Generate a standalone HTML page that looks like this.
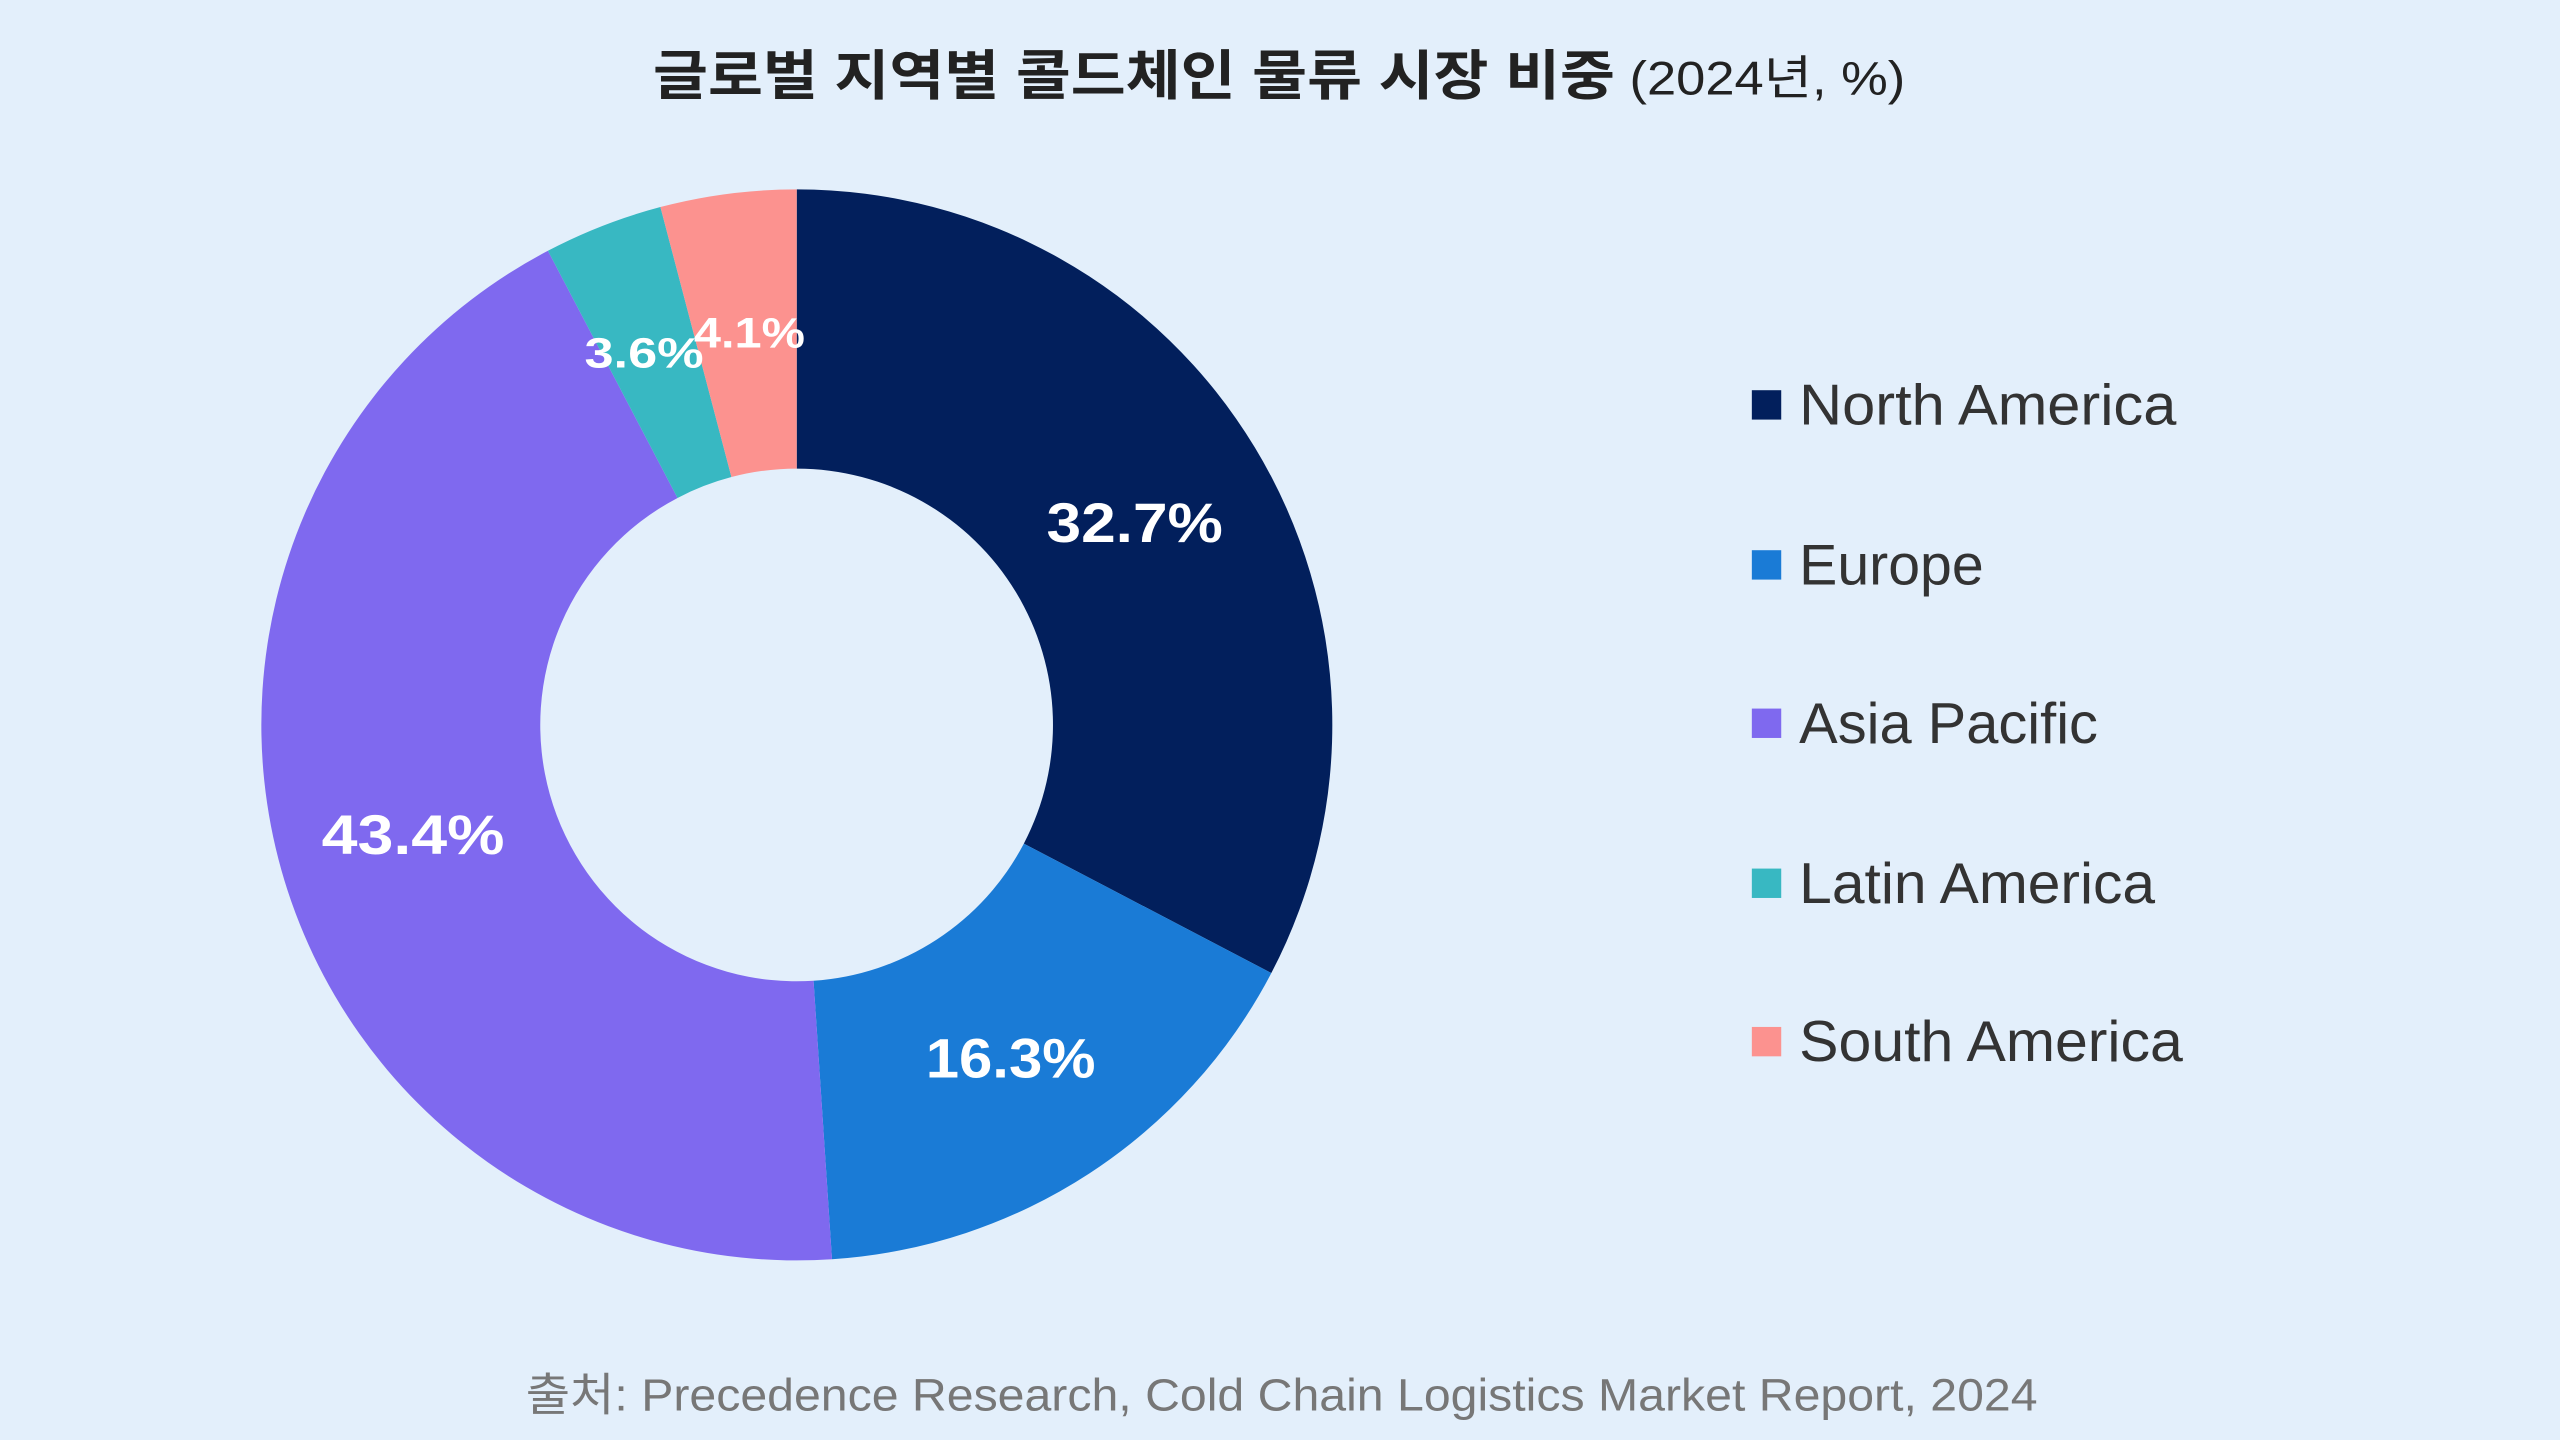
<!DOCTYPE html>
<html><head><meta charset="utf-8">
<style>
html,body{margin:0;padding:0;background:#e3effb;}
svg{display:block;}
text{font-family:"Liberation Sans","Noto Sans CJK KR",sans-serif;}
</style></head>
<body>
<svg width="2560" height="1440" viewBox="0 0 1568 882" xmlns="http://www.w3.org/2000/svg">
<rect width="1568" height="882" fill="#e3effb"/>
<text x="400" y="58" font-size="33" fill="#222" textLength="767" lengthAdjust="spacingAndGlyphs"><tspan font-weight="bold">글로벌 지역별 콜드체인 물류 시장 비중</tspan><tspan font-size="29"> (2024년, %)</tspan></text>
<path d="M488,116 A328,328 0 0 1 778.7,596.0 L627.1,516.7 A157,157 0 0 0 488,287 Z" fill="#021f5c"/>
<path d="M778.7,596.0 A328,328 0 0 1 509.6,771.3 L498.3,600.7 A157,157 0 0 0 627.1,516.7 Z" fill="#1a7bd6"/>
<path d="M509.6,771.3 A328,328 0 0 1 335.6,153.6 L415.0,305.0 A157,157 0 0 0 498.3,600.7 Z" fill="#7f69ef"/>
<path d="M335.6,153.6 A328,328 0 0 1 404.5,126.8 L448.0,292.2 A157,157 0 0 0 415.0,305.0 Z" fill="#38b8c2"/>
<path d="M404.5,126.8 A328,328 0 0 1 488,116 L488,287 A157,157 0 0 0 448.0,292.2 Z" fill="#fc928f"/>
<g fill="#fff" font-weight="bold" lengthAdjust="spacingAndGlyphs">
<text x="641" y="332" font-size="34" textLength="108" lengthAdjust="spacingAndGlyphs">32.7%</text>
<text x="567" y="660" font-size="34" textLength="104" lengthAdjust="spacingAndGlyphs">16.3%</text>
<text x="197" y="523" font-size="34" textLength="112" lengthAdjust="spacingAndGlyphs">43.4%</text>
<text x="358" y="225" font-size="26" textLength="73" lengthAdjust="spacingAndGlyphs">3.6%</text>
<text x="425" y="213" font-size="26" textLength="68" lengthAdjust="spacingAndGlyphs">4.1%</text>
</g>
<g font-size="35" fill="#333">
<rect x="1073" y="239" width="18" height="18" fill="#021f5c"/><text x="1102" y="260" textLength="231" lengthAdjust="spacingAndGlyphs">North America</text>
<rect x="1073" y="337" width="18" height="18" fill="#1a7bd6"/><text x="1102" y="358" textLength="113" lengthAdjust="spacingAndGlyphs">Europe</text>
<rect x="1073" y="434" width="18" height="18" fill="#7f69ef"/><text x="1102" y="455" textLength="183" lengthAdjust="spacingAndGlyphs">Asia Pacific</text>
<rect x="1073" y="532" width="18" height="18" fill="#38b8c2"/><text x="1102" y="553" textLength="218" lengthAdjust="spacingAndGlyphs">Latin America</text>
<rect x="1073" y="629" width="18" height="18" fill="#fc928f"/><text x="1102" y="650" textLength="235" lengthAdjust="spacingAndGlyphs">South America</text>
</g>
<text x="322" y="864" font-size="28" fill="#777" textLength="926" lengthAdjust="spacingAndGlyphs">출처: Precedence Research, Cold Chain Logistics Market Report, 2024</text>
</svg>
</body></html>
